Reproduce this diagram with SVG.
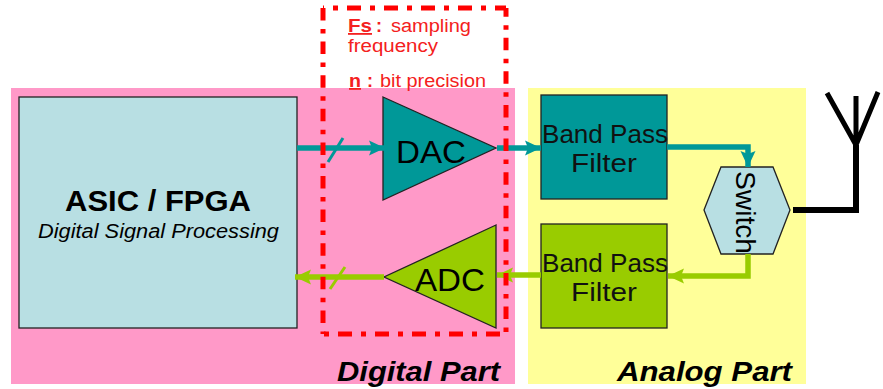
<svg xmlns="http://www.w3.org/2000/svg" width="883" height="389" viewBox="0 0 883 389">
<style>
text{font-family:"Liberation Sans",Arial,sans-serif}
.box{stroke:#222;stroke-width:1.3}
.lab{font-size:31px;fill:#000}
.bp{font-size:25px;fill:#111}
.part{font-size:28px;font-weight:bold;font-style:italic;fill:#000}
.red{font-size:18px;fill:#f42020}
.redb{font-size:18px;fill:#f42020;font-weight:bold;text-decoration:underline}
.redc{font-size:18px;fill:#f42020;font-weight:bold}
.teal{stroke:#009898;fill:none;stroke-width:5.5}
.green{stroke:#99cc00;fill:none;stroke-width:5.5}
.rh{fill:none;stroke:#f00;stroke-width:5;stroke-dasharray:14 9 5 9}
.rv{fill:none;stroke:#f00;stroke-width:5;stroke-dasharray:12.5 8.5 4.5 8.1}
</style>
<defs>
<marker id="ta" markerUnits="userSpaceOnUse" markerWidth="17" markerHeight="17" refX="16" refY="8.500" orient="auto"><path d="M0 1L16 8.500L0 16L3 8.500Z" fill="#009898"/></marker>
<marker id="ga" markerUnits="userSpaceOnUse" markerWidth="17" markerHeight="17" refX="16" refY="8.500" orient="auto"><path d="M0 1L16 8.500L0 16L3 8.500Z" fill="#99cc00"/></marker>
</defs>
<rect id="digital-bg" x="11" y="88" width="504" height="296" fill="#ff99c8"/>
<rect id="analog-bg" x="528" y="88" width="278" height="296" fill="#ffff99"/>
<g id="asic"><rect class="box" x="19" y="97" width="278" height="231" fill="#b8dfe3"/>
<text x="65" y="211" font-size="29" font-weight="bold" textLength="186" lengthAdjust="spacingAndGlyphs">ASIC / FPGA</text>
<text x="38" y="238" font-size="20" font-style="italic" textLength="241" lengthAdjust="spacingAndGlyphs">Digital Signal Processing</text></g>
<g id="dac"><path class="box" d="M383 97L496 148L383 200Z" fill="#009898"/><text class="lab" x="396" y="163" textLength="70" lengthAdjust="spacingAndGlyphs">DAC</text></g>
<g id="adc"><path class="box" d="M496 225L384 277L496 328Z" fill="#99cc00"/><text class="lab" x="415" y="291" textLength="70" lengthAdjust="spacingAndGlyphs">ADC</text></g>
<g id="bpf1"><rect class="box" x="541" y="95" width="126" height="104" fill="#009898"/><text class="bp" x="542" y="143" textLength="126" lengthAdjust="spacingAndGlyphs">Band Pass</text><text class="bp" x="571" y="172" textLength="66" lengthAdjust="spacingAndGlyphs">Filter</text></g>
<g id="bpf2"><rect class="box" x="541" y="224" width="126" height="104" fill="#99cc00"/><text class="bp" x="542" y="272" textLength="126" lengthAdjust="spacingAndGlyphs">Band Pass</text><text class="bp" x="571" y="301" textLength="66" lengthAdjust="spacingAndGlyphs">Filter</text></g>
<g id="switch"><path class="box" d="M704 210L721 167H773L790 210L773 254H721Z" fill="#b8dfe3"/><text font-size="28" transform="translate(736 171) rotate(90)" textLength="83" lengthAdjust="spacingAndGlyphs">Switch</text></g>
<g id="antenna" fill="none" stroke="#000" stroke-width="6"><path d="M793 210H856V145"/><path d="M827 93L856 145L878 92M856 96V145" stroke-width="5"/></g>
<g id="connectors">
<path class="teal" d="M297 148H385" marker-end="url(#ta)"/>
<path class="teal" d="M328 162L343 138" style="stroke-width:3"/>
<path class="teal" d="M497 148H541" marker-end="url(#ta)"/>
<path class="teal" d="M667 147H748V167" marker-end="url(#ta)"/>
<path class="green" d="M384 277H295" marker-end="url(#ga)"/>
<path class="green" d="M330 289L345 267" style="stroke-width:3"/>
<path class="green" d="M541 275H497" marker-end="url(#ga)"/>
<path class="green" d="M748 254V276H668" marker-end="url(#ga)"/>
</g>
<g id="sampling-box">
<path class="rh" d="M323 8H506" stroke-dashoffset="13"/>
<path class="rv" d="M506 8V334" stroke-dashoffset="3.850"/>
<path class="rv" d="M323 8V334"/>
<path class="rh" d="M323 334H506" stroke-dashoffset="22"/>
</g>
<g id="notes">
<text class="redb" x="348" y="32" textLength="24" lengthAdjust="spacingAndGlyphs">Fs</text><text class="redc" x="376" y="32">:</text><text class="red" x="391" y="32" textLength="80" lengthAdjust="spacingAndGlyphs">sampling</text>
<text class="red" x="348" y="52" textLength="90" lengthAdjust="spacingAndGlyphs">frequency</text>
<text class="redb" x="349" y="87" textLength="12" lengthAdjust="spacingAndGlyphs">n</text><text class="redc" x="367" y="87">:</text><text class="red" x="380" y="87" textLength="106" lengthAdjust="spacingAndGlyphs">bit precision</text>
</g>
<text class="part" x="337" y="381" textLength="163" lengthAdjust="spacingAndGlyphs">Digital Part</text>
<text class="part" x="617" y="381" textLength="175" lengthAdjust="spacingAndGlyphs">Analog Part</text>
</svg>
